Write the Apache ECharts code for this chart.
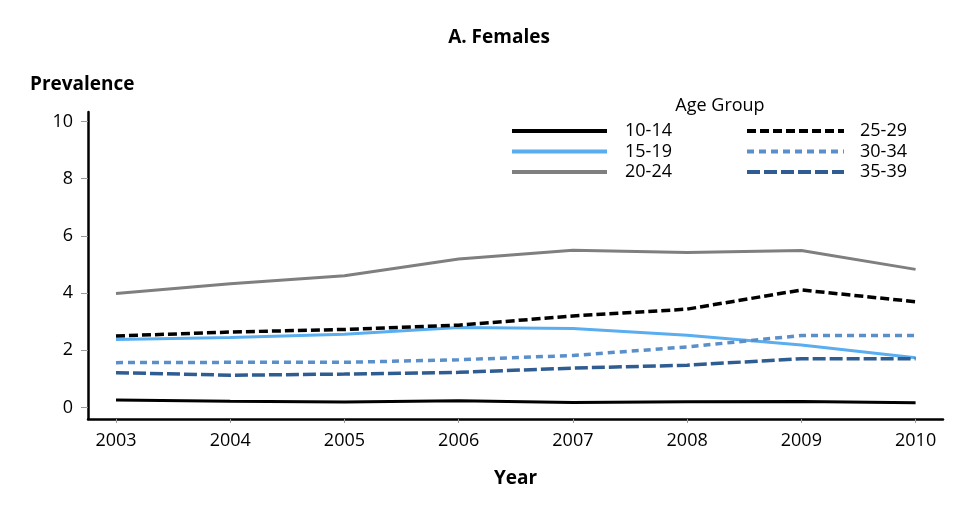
<!DOCTYPE html>
<html>
<head>
<meta charset="utf-8">
<script src="https://cdn.jsdelivr.net/npm/echarts@6/dist/echarts.min.js"></script>
<style>html,body{margin:0;padding:0;background:#fff}#c{width:960px;height:516px}</style>
</head>
<body>
<div id="c"></div>
<script>
var years = [2003, 2004, 2005, 2006, 2007, 2008, 2009, 2010];
var yTicks = [0, 2, 4, 6, 8, 10];
var g10_14 = [0.26, 0.22, 0.19, 0.24, 0.18, 0.20, 0.21, 0.17];
var g15_19 = [2.38, 2.45, 2.56, 2.80, 2.76, 2.53, 2.19, 1.74];
var g20_24 = [3.99, 4.33, 4.61, 5.19, 5.50, 5.42, 5.49, 4.83];
var g25_29 = [2.50, 2.64, 2.73, 2.88, 3.20, 3.44, 4.11, 3.70];
var g30_34 = [1.57, 1.58, 1.58, 1.67, 1.82, 2.12, 2.52, 2.52];
var g35_39 = [1.22, 1.13, 1.17, 1.23, 1.38, 1.48, 1.71, 1.71];

var FONT = 'Open Sans';
function pts(arr) { return years.map(function (y, i) { return [y, arr[i]]; }); }
function mk(name, data, color, type, width) {
  return {
    name: name, type: 'line', data: pts(data), symbol: 'none',
    lineStyle: { color: color, width: width, type: type },
    itemStyle: { color: color }
  };
}
var chart = echarts.init(document.getElementById('c'));
chart.setOption({
  animation: false,
  textStyle: { fontFamily: FONT },
  title: [
    { text: 'A. Females', left: 494, top: 23, textAlign: 'center',
      textStyle: { fontSize: 19, fontWeight: 'bold', color: '#000', fontFamily: FONT } },
    { text: 'Age Group', left: 715, top: 92, textAlign: 'center',
      textStyle: { fontSize: 18, fontWeight: 'normal', color: '#000', fontFamily: FONT } }
  ],
  grid: { left: 88, right: 17, top: 112, bottom: 97 },
  legend: [
    { data: ['10-14', '15-19', '20-24'], orient: 'vertical', left: 510, top: 122, padding: 0,
      itemWidth: 95, itemHeight: 12, itemGap: 2.5, itemStyle: { opacity: 0 }, lineStyle: { width: 4 },
      textStyle: { fontSize: 18, color: '#000', padding: [0, 0, 0, 13], fontFamily: FONT } },
    { data: ['25-29', '30-34', '35-39'], orient: 'vertical', left: 745, top: 122, padding: 0,
      itemWidth: 97, itemHeight: 12, itemGap: 2.5, itemStyle: { opacity: 0 }, lineStyle: { width: 4 },
      textStyle: { fontSize: 18, color: '#000', padding: [0, 0, 0, 11], fontFamily: FONT } }
  ],
  xAxis: {
    type: 'value', min: 2002.755, max: 2010.24,
    name: 'Year', nameLocation: 'middle', nameGap: 50,
    nameTextStyle: { fontSize: 19, fontWeight: 'bold', color: '#000', fontFamily: FONT },
    axisLine: { show: true, onZero: false, lineStyle: { color: '#000', width: 2.5 } },
    axisTick: { show: true, customValues: years, length: 4, lineStyle: { color: '#999', width: 1 } },
    axisLabel: { customValues: years, formatter: function (v) { return String(v); },
      fontSize: 18, color: '#000', margin: 13, fontFamily: FONT },
    splitLine: { show: false }
  },
  yAxis: {
    type: 'value', min: -0.4, max: 10.33,
    name: 'Prevalence', nameLocation: 'end', nameGap: 18,
    nameTextStyle: { fontSize: 19, fontWeight: 'bold', color: '#000', align: 'left', padding: [0, 0, 0, -58], fontFamily: FONT },
    axisLine: { show: true, onZero: false, lineStyle: { color: '#000', width: 2.5 } },
    axisTick: { show: true, customValues: yTicks, length: 7, lineStyle: { color: '#999', width: 1 } },
    axisLabel: { customValues: yTicks, fontSize: 18, color: '#000', margin: 15, fontFamily: FONT },
    splitLine: { show: false }
  },
  series: [
    mk('10-14', g10_14, '#000000', 'solid', 3),
    mk('15-19', g15_19, '#5aaeef', 'solid', 3),
    mk('20-24', g20_24, '#7f7f7f', 'solid', 3),
    mk('25-29', g25_29, '#000000', [9, 4], 3.5),
    mk('30-34', g30_34, '#5b8fc9', [7, 5], 3.5),
    mk('35-39', g35_39, '#2f5d91', [13, 4], 3.5)
  ]
});
</script>
</body>
</html>
